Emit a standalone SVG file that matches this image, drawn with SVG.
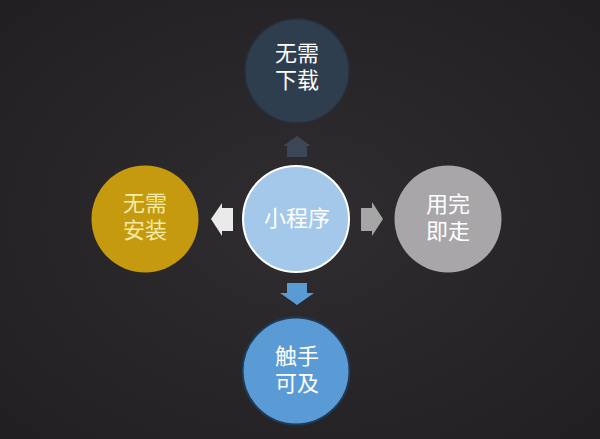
<svg xmlns="http://www.w3.org/2000/svg" width="600" height="439" viewBox="0 0 600 439">
<defs>
<radialGradient id="bg" cx="50%" cy="50%" r="70%">
<stop offset="0" stop-color="#302d31"/>
<stop offset="1" stop-color="#221f22"/>
</radialGradient>
<style>
.t{font-family:"Noto Sans CJK SC","Noto Sans",sans-serif;font-size:22px;text-anchor:middle}
</style>
</defs>
<rect width="600" height="439" fill="url(#bg)"/>
<g id="connectors">
<polygon points="297,136 311,146 307,146 307,157 287,157 287,146 283,146" fill="#3b4656"/>
<polygon points="211,219 222,203 222,208 233,208 233,231 222,231 222,236" fill="#eaeaea"/>
<polygon points="383,219 372,202 372,208 361,208 361,231 372,231 372,236" fill="#a6a6a6"/>
<polygon points="297,305 314,293 307,293 307,283 287,283 287,293 280,293" fill="#5b9bd5"/>
</g>
<g id="top">
<circle cx="297" cy="71" r="52" fill="#2f3e4e" stroke="#26313d" stroke-width="1.5"/>
<text class="t" x="297" y="61" fill="#ffffff">无需</text>
<text class="t" x="297" y="88" fill="#ffffff">下载</text>
</g>
<g id="left">
<circle cx="145" cy="219" r="53.5" fill="#c59a0e"/>
<text class="t" x="145" y="211" fill="#f3eba6">无需</text>
<text class="t" x="145" y="238" fill="#f3eba6">安装</text>
</g>
<g id="center">
<circle cx="296" cy="219" r="53" fill="#a4c8ea" stroke="#ffffff" stroke-width="2"/>
<text class="t" x="297" y="226" fill="#ffffff">小程序</text>
</g>
<g id="right">
<circle cx="448" cy="219" r="53.5" fill="#a9a6aa"/>
<text class="t" x="448" y="212" fill="#ffffff">用完</text>
<text class="t" x="448" y="239" fill="#ffffff">即走</text>
</g>
<g id="bottom">
<circle cx="296" cy="371" r="53.5" fill="#5b9bd5" stroke="#1e3a55" stroke-width="2"/>
<text class="t" x="297" y="364" fill="#ffffff">触手</text>
<text class="t" x="297" y="391" fill="#ffffff">可及</text>
</g>
</svg>
